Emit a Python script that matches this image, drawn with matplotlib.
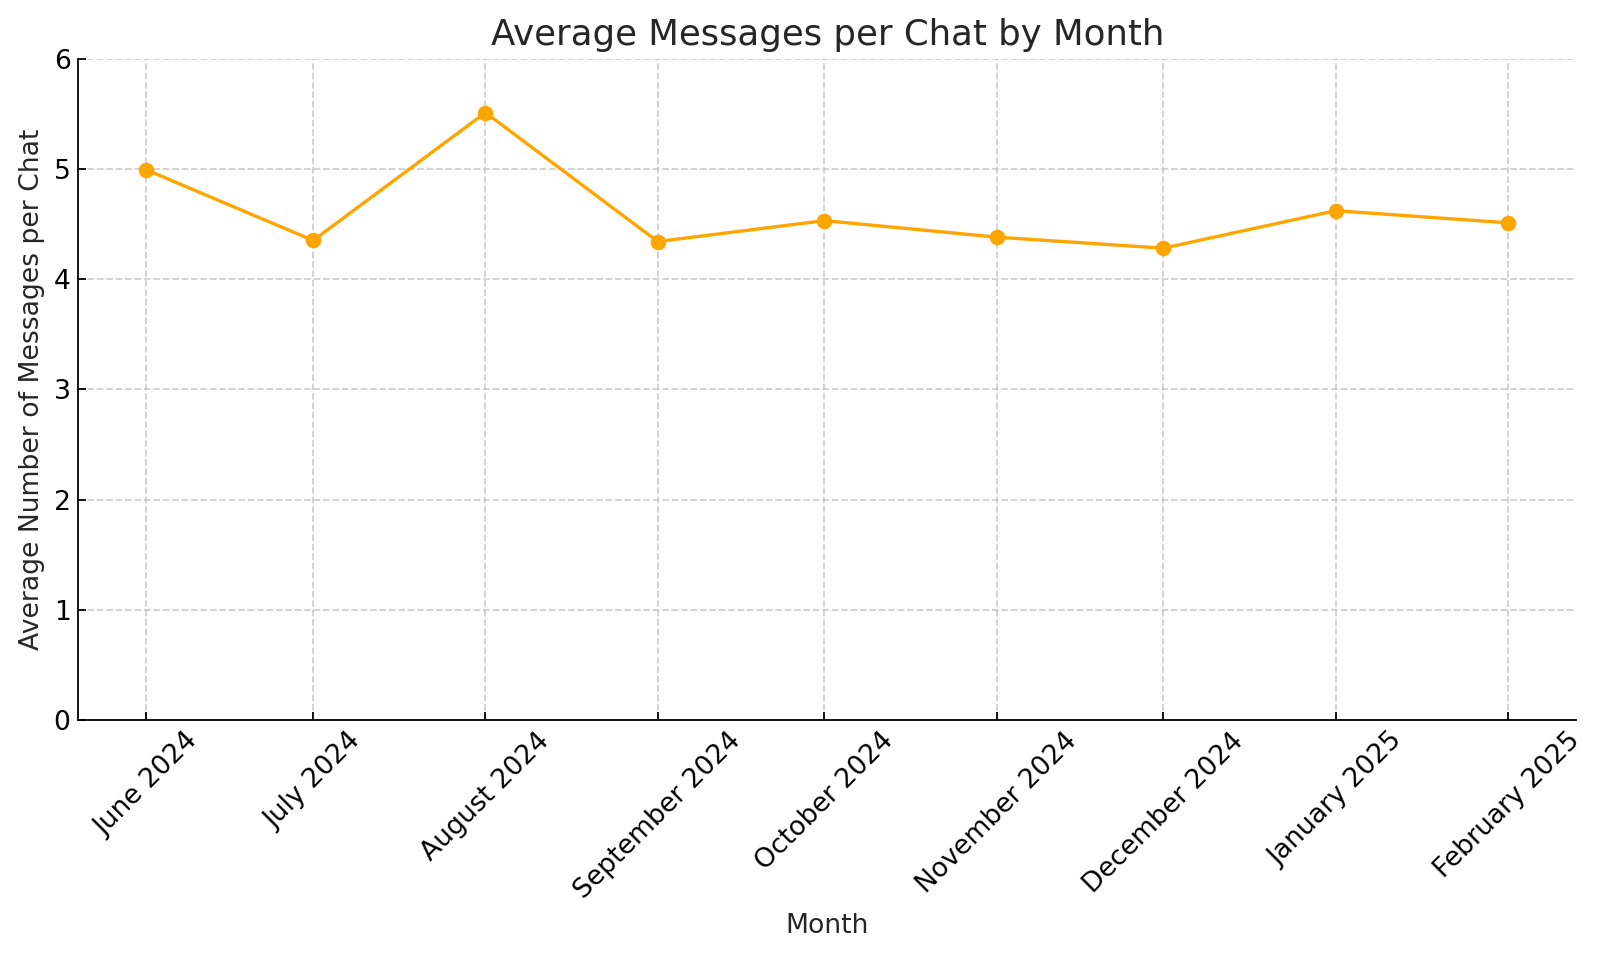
import pandas as pd
import matplotlib.pyplot as plt
import matplotlib.dates as mdates

# monthly averages
months = ['2024-06-01', '2024-07-01', '2024-08-01', '2024-09-01', '2024-10-01',
          '2024-11-01', '2024-12-01', '2025-01-01', '2025-02-01']
avg_messages = [4.99, 4.35, 5.51, 4.34, 4.53, 4.38, 4.28, 4.62, 4.51]

dates = pd.to_datetime(months)

fig, ax = plt.subplots(figsize=(10, 6), dpi=160)
fig.subplots_adjust(left=0.049, right=0.985, top=0.939, bottom=0.25)

ax.plot(dates, avg_messages, marker='o', color='orange', linewidth=1.5)

ax.set_title('Average Messages per Chat by Month', fontsize=16, color='#262626')
ax.set_xlabel('Month', fontsize=12, color='#262626')
ax.set_ylabel('Average Number of Messages per Chat', fontsize=12, color='#262626')
ax.set_ylim(0, 6)

ax.xaxis.set_major_locator(mdates.MonthLocator())
ax.xaxis.set_major_formatter(mdates.DateFormatter('%B %Y'))
plt.setp(ax.get_xticklabels(), rotation=45)
ax.tick_params(axis='both', direction='in', labelsize=12)

ax.grid(True, linestyle='--', color='#bbbbbb', alpha=0.7, linewidth=0.8)
ax.spines['top'].set_visible(False)
ax.spines['right'].set_visible(False)

plt.savefig('out.png', dpi=160)
